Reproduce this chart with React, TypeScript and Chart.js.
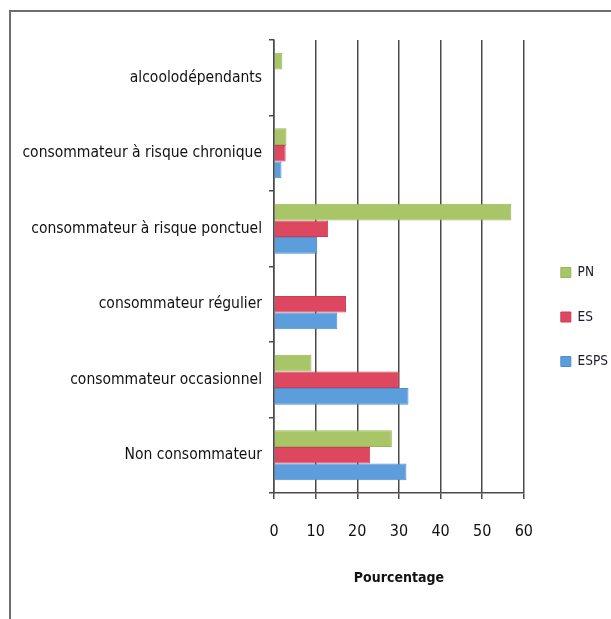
import React, { useEffect, useRef } from "react";
import { Chart, registerables } from "chart.js";

Chart.register(...registerables);

const categories = [
  "alcoolodépendants",
  "consommateur à risque chronique",
  "consommateur à risque ponctuel",
  "consommateur régulier",
  "consommateur occasionnel",
  "Non consommateur",
];
const seriesNames = ["PN", "ES", "ESPS"];
const pnValues = [2.0, 3.0, 57.0, null, 9.0, 28.3];
const esValues = [null, 2.8, 13.0, 17.3, 30.0, 23.1];
const espsValues = [null, 1.8, 10.4, 15.2, 32.3, 31.8];
const xTicks = [0, 10, 20, 30, 40, 50, 60];
const xTitle = "Pourcentage";

const FONT = '"DejaVu Sans Condensed", "Liberation Sans", sans-serif';

export default function App() {
  const ref = useRef<HTMLCanvasElement | null>(null);

  useEffect(() => {
    const canvas = ref.current;
    if (!canvas) return;
    const chart = new Chart(canvas, {
      type: "bar",
      data: {
        labels: categories,
        datasets: [
          { label: seriesNames[0], data: pnValues, backgroundColor: "#a8c567", borderColor: "#98b657", borderWidth: 1 },
          { label: seriesNames[1], data: esValues, backgroundColor: "#dd4760", borderColor: "#cc3d55", borderWidth: 1 },
          { label: seriesNames[2], data: espsValues, backgroundColor: "#5b9edb", borderColor: "#4d8fcc", borderWidth: 1 },
        ],
      },
      options: {
        indexAxis: "y",
        responsive: false,
        animation: false,
        devicePixelRatio: 1,
        layout: { padding: { top: 40, left: 0, right: 2, bottom: 25 } },
        datasets: { bar: { categoryPercentage: 0.66, barPercentage: 1 } },
        plugins: {
          tooltip: { enabled: false },
          legend: {
            position: "right",
            labels: {
              boxWidth: 10,
              boxHeight: 10,
              padding: 31,
              color: "#1a1a2a",
              font: { family: FONT, size: 13.5 },
            },
          },
        },
        scales: {
          x: {
            type: "linear",
            min: 0,
            max: 60,
            afterBuildTicks: (s: any) => {
              s.ticks = xTicks.map((v) => ({ value: v }));
            },
            afterFit: (s: any) => {
              s.height = 101;
            },
            ticks: {
              color: "#111111",
              padding: 23,
              font: { family: FONT, size: 16 },
            },
            grid: { color: "#4a4a4a", lineWidth: 1.5, tickLength: 6, tickColor: "#4a4a4a" },
            border: { color: "#4a4a4a", width: 1.5 },
            title: {
              display: true,
              text: xTitle,
              color: "#111111",
              font: { family: FONT, size: 14, weight: "bold" },
              padding: { top: 0, bottom: 7 },
            },
          },
          y: {
            type: "category",
            afterFit: (s: any) => {
              s.width = 274;
            },
            ticks: {
              color: "#111111",
              padding: 7,
              font: { family: FONT, size: 15.5 },
            },
            grid: { drawOnChartArea: false, tickLength: 5, color: "#4a4a4a", lineWidth: 1.5 },
            border: { color: "#4a4a4a", width: 1.5 },
          },
          gap: {
            type: "category",
            position: "right",
            display: true,
            afterFit: (s: any) => {
              s.width = 6;
            },
            ticks: { display: false },
            grid: { display: false, drawTicks: false },
            border: { display: false },
          },
        },
      } as any,
    });
    return () => chart.destroy();
  }, []);

  return (
    <div style={{ position: "fixed", left: 0, top: 0, width: 611, height: 619, overflow: "hidden", background: "#fff" }}>
      <div
        style={{
          position: "absolute",
          left: 9,
          top: 10,
          width: 700,
          height: 700,
          borderTop: "2px solid #6e6e6e",
          borderLeft: "2px solid #6e6e6e",
        }}
      />
      <canvas ref={ref} width={620} height={619} style={{ position: "absolute", left: 0, top: 0, width: 620, height: 619 }} />
    </div>
  );
}
